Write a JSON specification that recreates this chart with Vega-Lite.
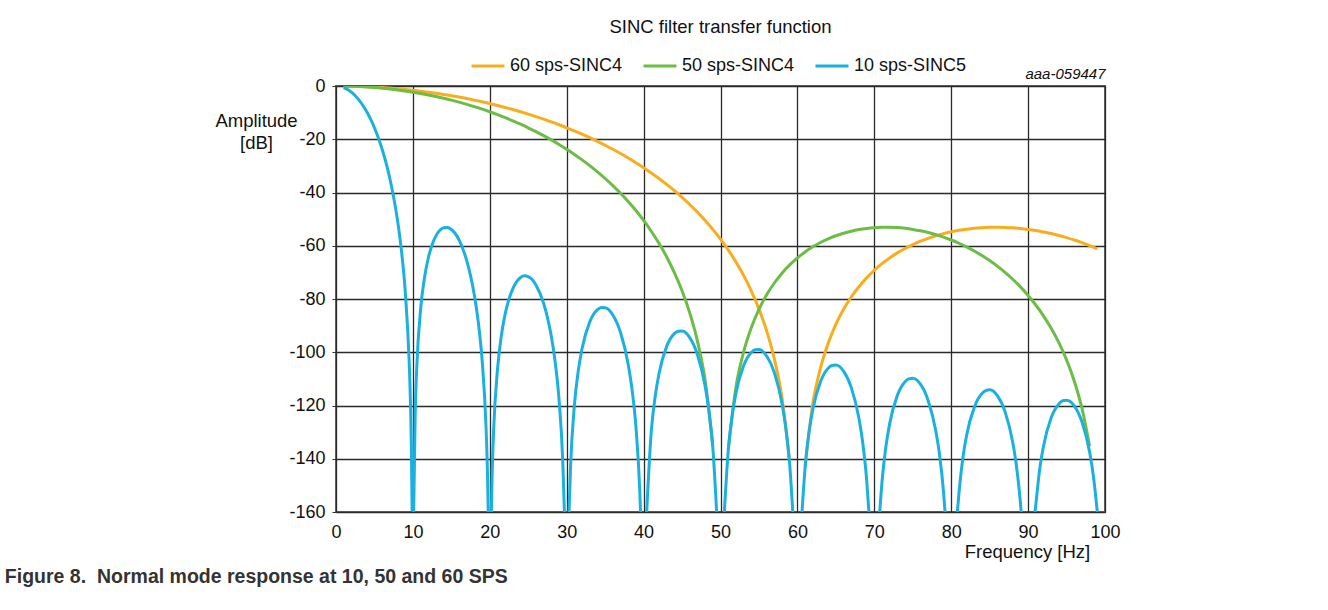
{
"$schema": "https://vega.github.io/schema/vega-lite/v6.json",
"background": "white",
"padding": {"left": 4, "top": 16, "right": 10, "bottom": 10},
"config": {"font": "Liberation Sans", "view": {"stroke": "#666666", "strokeWidth": 2}},
"title": {"text": "Figure 8.\u00a0 Normal mode response at 10, 50 and 60 SPS", "orient": "bottom", "anchor": "start", "frame": "bounds", "fontSize": 19.5, "fontWeight": "bold", "color": "#333333", "dx": -209, "offset": 6},
"data": {"values": [
{"series":"60 sps-SINC4","seg":"o1","f":1,"db":-0.02},{"series":"60 sps-SINC4","seg":"o1","f":2,"db":-0.06},{"series":"60 sps-SINC4","seg":"o1","f":3,"db":-0.14},{"series":"60 sps-SINC4","seg":"o1","f":4,"db":-0.26},{"series":"60 sps-SINC4","seg":"o1","f":5,"db":-0.4},{"series":"60 sps-SINC4","seg":"o1","f":6,"db":-0.57},{"series":"60 sps-SINC4","seg":"o1","f":7,"db":-0.78},{"series":"60 sps-SINC4","seg":"o1","f":8,"db":-1.02},{"series":"60 sps-SINC4","seg":"o1","f":9,"db":-1.3},{"series":"60 sps-SINC4","seg":"o1","f":10,"db":-1.6},
{"series":"60 sps-SINC4","seg":"o1","f":11,"db":-1.94},{"series":"60 sps-SINC4","seg":"o1","f":12,"db":-2.32},{"series":"60 sps-SINC4","seg":"o1","f":13,"db":-2.73},{"series":"60 sps-SINC4","seg":"o1","f":14,"db":-3.17},{"series":"60 sps-SINC4","seg":"o1","f":15,"db":-3.65},{"series":"60 sps-SINC4","seg":"o1","f":16,"db":-4.16},{"series":"60 sps-SINC4","seg":"o1","f":17,"db":-4.72},{"series":"60 sps-SINC4","seg":"o1","f":18,"db":-5.31},{"series":"60 sps-SINC4","seg":"o1","f":19,"db":-5.93},{"series":"60 sps-SINC4","seg":"o1","f":20,"db":-6.6},
{"series":"60 sps-SINC4","seg":"o1","f":21,"db":-7.31},{"series":"60 sps-SINC4","seg":"o1","f":22,"db":-8.06},{"series":"60 sps-SINC4","seg":"o1","f":23,"db":-8.85},{"series":"60 sps-SINC4","seg":"o1","f":24,"db":-9.68},{"series":"60 sps-SINC4","seg":"o1","f":25,"db":-10.56},{"series":"60 sps-SINC4","seg":"o1","f":26,"db":-11.49},{"series":"60 sps-SINC4","seg":"o1","f":27,"db":-12.46},{"series":"60 sps-SINC4","seg":"o1","f":28,"db":-13.48},{"series":"60 sps-SINC4","seg":"o1","f":29,"db":-14.56},{"series":"60 sps-SINC4","seg":"o1","f":30,"db":-15.69},
{"series":"60 sps-SINC4","seg":"o1","f":31,"db":-16.88},{"series":"60 sps-SINC4","seg":"o1","f":32,"db":-18.12},{"series":"60 sps-SINC4","seg":"o1","f":33,"db":-19.43},{"series":"60 sps-SINC4","seg":"o1","f":34,"db":-20.81},{"series":"60 sps-SINC4","seg":"o1","f":35,"db":-22.25},{"series":"60 sps-SINC4","seg":"o1","f":36,"db":-23.77},{"series":"60 sps-SINC4","seg":"o1","f":37,"db":-25.36},{"series":"60 sps-SINC4","seg":"o1","f":38,"db":-27.04},{"series":"60 sps-SINC4","seg":"o1","f":39,"db":-28.81},{"series":"60 sps-SINC4","seg":"o1","f":40,"db":-30.68},
{"series":"60 sps-SINC4","seg":"o1","f":41,"db":-32.66},{"series":"60 sps-SINC4","seg":"o1","f":42,"db":-34.74},{"series":"60 sps-SINC4","seg":"o1","f":43,"db":-36.96},{"series":"60 sps-SINC4","seg":"o1","f":44,"db":-39.31},{"series":"60 sps-SINC4","seg":"o1","f":45,"db":-41.82},{"series":"60 sps-SINC4","seg":"o1","f":46,"db":-44.5},{"series":"60 sps-SINC4","seg":"o1","f":47,"db":-47.38},{"series":"60 sps-SINC4","seg":"o1","f":48,"db":-50.48},{"series":"60 sps-SINC4","seg":"o1","f":49,"db":-53.85},{"series":"60 sps-SINC4","seg":"o1","f":50,"db":-57.52},
{"series":"60 sps-SINC4","seg":"o1","f":51,"db":-61.56},{"series":"60 sps-SINC4","seg":"o1","f":52,"db":-66.06},{"series":"60 sps-SINC4","seg":"o1","f":53,"db":-71.12},{"series":"60 sps-SINC4","seg":"o1","f":54,"db":-76.91},{"series":"60 sps-SINC4","seg":"o1","f":55,"db":-83.71},{"series":"60 sps-SINC4","seg":"o1","f":56,"db":-91.95},{"series":"60 sps-SINC4","seg":"o1","f":57,"db":-102.44},{"series":"60 sps-SINC4","seg":"o1","f":58,"db":-117.06},{"series":"60 sps-SINC4","seg":"o1","f":59,"db":-141.68},
{"series":"60 sps-SINC4","seg":"o2","f":61,"db":-142.84},{"series":"60 sps-SINC4","seg":"o2","f":62,"db":-119.37},{"series":"60 sps-SINC4","seg":"o2","f":63,"db":-105.92},{"series":"60 sps-SINC4","seg":"o2","f":64,"db":-96.59},{"series":"60 sps-SINC4","seg":"o2","f":65,"db":-89.51},{"series":"60 sps-SINC4","seg":"o2","f":66,"db":-83.89},{"series":"60 sps-SINC4","seg":"o2","f":67,"db":-79.26},{"series":"60 sps-SINC4","seg":"o2","f":68,"db":-75.38},{"series":"60 sps-SINC4","seg":"o2","f":69,"db":-72.06},{"series":"60 sps-SINC4","seg":"o2","f":70,"db":-69.21},
{"series":"60 sps-SINC4","seg":"o2","f":71,"db":-66.73},{"series":"60 sps-SINC4","seg":"o2","f":72,"db":-64.57},{"series":"60 sps-SINC4","seg":"o2","f":73,"db":-62.68},{"series":"60 sps-SINC4","seg":"o2","f":74,"db":-61.02},{"series":"60 sps-SINC4","seg":"o2","f":75,"db":-59.57},{"series":"60 sps-SINC4","seg":"o2","f":76,"db":-58.3},{"series":"60 sps-SINC4","seg":"o2","f":77,"db":-57.2},{"series":"60 sps-SINC4","seg":"o2","f":78,"db":-56.25},{"series":"60 sps-SINC4","seg":"o2","f":79,"db":-55.44},{"series":"60 sps-SINC4","seg":"o2","f":80,"db":-54.77},
{"series":"60 sps-SINC4","seg":"o2","f":81,"db":-54.21},{"series":"60 sps-SINC4","seg":"o2","f":82,"db":-53.77},{"series":"60 sps-SINC4","seg":"o2","f":83,"db":-53.43},{"series":"60 sps-SINC4","seg":"o2","f":84,"db":-53.21},{"series":"60 sps-SINC4","seg":"o2","f":85,"db":-53.08},{"series":"60 sps-SINC4","seg":"o2","f":86,"db":-53.05},{"series":"60 sps-SINC4","seg":"o2","f":87,"db":-53.11},{"series":"60 sps-SINC4","seg":"o2","f":88,"db":-53.27},{"series":"60 sps-SINC4","seg":"o2","f":89,"db":-53.52},{"series":"60 sps-SINC4","seg":"o2","f":90,"db":-53.86},
{"series":"60 sps-SINC4","seg":"o2","f":91,"db":-54.29},{"series":"60 sps-SINC4","seg":"o2","f":92,"db":-54.81},{"series":"60 sps-SINC4","seg":"o2","f":93,"db":-55.43},{"series":"60 sps-SINC4","seg":"o2","f":94,"db":-56.14},{"series":"60 sps-SINC4","seg":"o2","f":95,"db":-56.94},{"series":"60 sps-SINC4","seg":"o2","f":96,"db":-57.85},{"series":"60 sps-SINC4","seg":"o2","f":97,"db":-58.85},{"series":"60 sps-SINC4","seg":"o2","f":98,"db":-59.96},{"series":"60 sps-SINC4","seg":"o2","f":99,"db":-61.18},
{"series":"50 sps-SINC4","seg":"g1","f":1,"db":-0.02},{"series":"50 sps-SINC4","seg":"g1","f":2,"db":-0.09},{"series":"50 sps-SINC4","seg":"g1","f":3,"db":-0.2},{"series":"50 sps-SINC4","seg":"g1","f":4,"db":-0.36},{"series":"50 sps-SINC4","seg":"g1","f":5,"db":-0.57},{"series":"50 sps-SINC4","seg":"g1","f":6,"db":-0.82},{"series":"50 sps-SINC4","seg":"g1","f":7,"db":-1.13},{"series":"50 sps-SINC4","seg":"g1","f":8,"db":-1.47},{"series":"50 sps-SINC4","seg":"g1","f":9,"db":-1.87},{"series":"50 sps-SINC4","seg":"g1","f":10,"db":-2.32},
{"series":"50 sps-SINC4","seg":"g1","f":11,"db":-2.81},{"series":"50 sps-SINC4","seg":"g1","f":12,"db":-3.35},{"series":"50 sps-SINC4","seg":"g1","f":13,"db":-3.95},{"series":"50 sps-SINC4","seg":"g1","f":14,"db":-4.6},{"series":"50 sps-SINC4","seg":"g1","f":15,"db":-5.3},{"series":"50 sps-SINC4","seg":"g1","f":16,"db":-6.06},{"series":"50 sps-SINC4","seg":"g1","f":17,"db":-6.88},{"series":"50 sps-SINC4","seg":"g1","f":18,"db":-7.75},{"series":"50 sps-SINC4","seg":"g1","f":19,"db":-8.68},{"series":"50 sps-SINC4","seg":"g1","f":20,"db":-9.68},
{"series":"50 sps-SINC4","seg":"g1","f":21,"db":-10.74},{"series":"50 sps-SINC4","seg":"g1","f":22,"db":-11.87},{"series":"50 sps-SINC4","seg":"g1","f":23,"db":-13.07},{"series":"50 sps-SINC4","seg":"g1","f":24,"db":-14.34},{"series":"50 sps-SINC4","seg":"g1","f":25,"db":-15.69},{"series":"50 sps-SINC4","seg":"g1","f":26,"db":-17.12},{"series":"50 sps-SINC4","seg":"g1","f":27,"db":-18.64},{"series":"50 sps-SINC4","seg":"g1","f":28,"db":-20.25},{"series":"50 sps-SINC4","seg":"g1","f":29,"db":-21.95},{"series":"50 sps-SINC4","seg":"g1","f":30,"db":-23.77},
{"series":"50 sps-SINC4","seg":"g1","f":31,"db":-25.69},{"series":"50 sps-SINC4","seg":"g1","f":32,"db":-27.74},{"series":"50 sps-SINC4","seg":"g1","f":33,"db":-29.92},{"series":"50 sps-SINC4","seg":"g1","f":34,"db":-32.25},{"series":"50 sps-SINC4","seg":"g1","f":35,"db":-34.74},{"series":"50 sps-SINC4","seg":"g1","f":36,"db":-37.41},{"series":"50 sps-SINC4","seg":"g1","f":37,"db":-40.29},{"series":"50 sps-SINC4","seg":"g1","f":38,"db":-43.4},{"series":"50 sps-SINC4","seg":"g1","f":39,"db":-46.78},{"series":"50 sps-SINC4","seg":"g1","f":40,"db":-50.48},
{"series":"50 sps-SINC4","seg":"g1","f":41,"db":-54.55},{"series":"50 sps-SINC4","seg":"g1","f":42,"db":-59.09},{"series":"50 sps-SINC4","seg":"g1","f":43,"db":-64.2},{"series":"50 sps-SINC4","seg":"g1","f":44,"db":-70.05},{"series":"50 sps-SINC4","seg":"g1","f":45,"db":-76.91},{"series":"50 sps-SINC4","seg":"g1","f":46,"db":-85.22},{"series":"50 sps-SINC4","seg":"g1","f":47,"db":-95.8},{"series":"50 sps-SINC4","seg":"g1","f":48,"db":-110.51},{"series":"50 sps-SINC4","seg":"g1","f":49,"db":-135.24},
{"series":"50 sps-SINC4","seg":"g2","f":51,"db":-136.63},{"series":"50 sps-SINC4","seg":"g2","f":52,"db":-113.29},{"series":"50 sps-SINC4","seg":"g2","f":53,"db":-99.98},{"series":"50 sps-SINC4","seg":"g2","f":54,"db":-90.79},{"series":"50 sps-SINC4","seg":"g2","f":55,"db":-83.88},{"series":"50 sps-SINC4","seg":"g2","f":56,"db":-78.43},{"series":"50 sps-SINC4","seg":"g2","f":57,"db":-73.99},{"series":"50 sps-SINC4","seg":"g2","f":58,"db":-70.3},{"series":"50 sps-SINC4","seg":"g2","f":59,"db":-67.2},{"series":"50 sps-SINC4","seg":"g2","f":60,"db":-64.57},
{"series":"50 sps-SINC4","seg":"g2","f":61,"db":-62.32},{"series":"50 sps-SINC4","seg":"g2","f":62,"db":-60.41},{"series":"50 sps-SINC4","seg":"g2","f":63,"db":-58.78},{"series":"50 sps-SINC4","seg":"g2","f":64,"db":-57.4},{"series":"50 sps-SINC4","seg":"g2","f":65,"db":-56.25},{"series":"50 sps-SINC4","seg":"g2","f":66,"db":-55.29},{"series":"50 sps-SINC4","seg":"g2","f":67,"db":-54.53},{"series":"50 sps-SINC4","seg":"g2","f":68,"db":-53.93},{"series":"50 sps-SINC4","seg":"g2","f":69,"db":-53.49},{"series":"50 sps-SINC4","seg":"g2","f":70,"db":-53.2},
{"series":"50 sps-SINC4","seg":"g2","f":71,"db":-53.06},{"series":"50 sps-SINC4","seg":"g2","f":72,"db":-53.06},{"series":"50 sps-SINC4","seg":"g2","f":73,"db":-53.19},{"series":"50 sps-SINC4","seg":"g2","f":74,"db":-53.46},{"series":"50 sps-SINC4","seg":"g2","f":75,"db":-53.86},{"series":"50 sps-SINC4","seg":"g2","f":76,"db":-54.39},{"series":"50 sps-SINC4","seg":"g2","f":77,"db":-55.05},{"series":"50 sps-SINC4","seg":"g2","f":78,"db":-55.84},{"series":"50 sps-SINC4","seg":"g2","f":79,"db":-56.77},{"series":"50 sps-SINC4","seg":"g2","f":80,"db":-57.84},
{"series":"50 sps-SINC4","seg":"g2","f":81,"db":-59.06},{"series":"50 sps-SINC4","seg":"g2","f":82,"db":-60.43},{"series":"50 sps-SINC4","seg":"g2","f":83,"db":-61.97},{"series":"50 sps-SINC4","seg":"g2","f":84,"db":-63.67},{"series":"50 sps-SINC4","seg":"g2","f":85,"db":-65.57},{"series":"50 sps-SINC4","seg":"g2","f":86,"db":-67.67},{"series":"50 sps-SINC4","seg":"g2","f":87,"db":-70.0},{"series":"50 sps-SINC4","seg":"g2","f":88,"db":-72.58},{"series":"50 sps-SINC4","seg":"g2","f":89,"db":-75.45},{"series":"50 sps-SINC4","seg":"g2","f":90,"db":-78.65},
{"series":"50 sps-SINC4","seg":"g2","f":91,"db":-82.25},{"series":"50 sps-SINC4","seg":"g2","f":92,"db":-86.33},{"series":"50 sps-SINC4","seg":"g2","f":93,"db":-91.0},{"series":"50 sps-SINC4","seg":"g2","f":94,"db":-96.42},{"series":"50 sps-SINC4","seg":"g2","f":95,"db":-102.87},{"series":"50 sps-SINC4","seg":"g2","f":96,"db":-110.78},{"series":"50 sps-SINC4","seg":"g2","f":97,"db":-120.98},{"series":"50 sps-SINC4","seg":"g2","f":98,"db":-135.31},
{"series":"10 sps-SINC5","seg":"b0","f":1,"db":-0.57},{"series":"10 sps-SINC5","seg":"b0","f":1.5,"db":-1.3},{"series":"10 sps-SINC5","seg":"b0","f":2,"db":-2.32},{"series":"10 sps-SINC5","seg":"b0","f":2.5,"db":-3.65},{"series":"10 sps-SINC5","seg":"b0","f":3,"db":-5.31},{"series":"10 sps-SINC5","seg":"b0","f":3.5,"db":-7.31},{"series":"10 sps-SINC5","seg":"b0","f":4,"db":-9.68},{"series":"10 sps-SINC5","seg":"b0","f":4.5,"db":-12.46},{"series":"10 sps-SINC5","seg":"b0","f":5,"db":-15.69},{"series":"10 sps-SINC5","seg":"b0","f":5.5,"db":-19.43},
{"series":"10 sps-SINC5","seg":"b0","f":6,"db":-23.77},{"series":"10 sps-SINC5","seg":"b0","f":6.5,"db":-28.82},{"series":"10 sps-SINC5","seg":"b0","f":7,"db":-34.74},{"series":"10 sps-SINC5","seg":"b0","f":7.5,"db":-41.82},{"series":"10 sps-SINC5","seg":"b0","f":8,"db":-50.48},{"series":"10 sps-SINC5","seg":"b0","f":8.5,"db":-61.56},{"series":"10 sps-SINC5","seg":"b0","f":9,"db":-76.91},{"series":"10 sps-SINC5","seg":"b0","f":9.5,"db":-102.44},{"series":"10 sps-SINC5","seg":"b0","f":9.6,"db":-110.5},{"series":"10 sps-SINC5","seg":"b0","f":9.7,"db":-120.8},{"series":"10 sps-SINC5","seg":"b0","f":9.8,"db":-135.2},{"series":"10 sps-SINC5","seg":"b0","f":9.9,"db":-159.7},
{"series":"10 sps-SINC5","seg":"b1","f":10.1,"db":-160},{"series":"10 sps-SINC5","seg":"b1","f":10.3,"db":-122.9},{"series":"10 sps-SINC5","seg":"b1","f":10.5,"db":-105.9},{"series":"10 sps-SINC5","seg":"b1","f":11,"db":-83.9},{"series":"10 sps-SINC5","seg":"b1","f":11.5,"db":-72.1},{"series":"10 sps-SINC5","seg":"b1","f":12,"db":-64.6},{"series":"10 sps-SINC5","seg":"b1","f":12.5,"db":-59.6},{"series":"10 sps-SINC5","seg":"b1","f":13,"db":-56.3},{"series":"10 sps-SINC5","seg":"b1","f":13.5,"db":-54.2},{"series":"10 sps-SINC5","seg":"b1","f":14,"db":-53.2},{"series":"10 sps-SINC5","seg":"b1","f":14.5,"db":-53.1},{"series":"10 sps-SINC5","seg":"b1","f":15,"db":-53.9},{"series":"10 sps-SINC5","seg":"b1","f":15.5,"db":-55.4},{"series":"10 sps-SINC5","seg":"b1","f":16,"db":-57.8},{"series":"10 sps-SINC5","seg":"b1","f":16.5,"db":-61.2},{"series":"10 sps-SINC5","seg":"b1","f":17,"db":-65.6},{"series":"10 sps-SINC5","seg":"b1","f":17.5,"db":-71.3},{"series":"10 sps-SINC5","seg":"b1","f":18,"db":-78.7},{"series":"10 sps-SINC5","seg":"b1","f":18.5,"db":-88.6},{"series":"10 sps-SINC5","seg":"b1","f":19,"db":-102.9},{"series":"10 sps-SINC5","seg":"b1","f":19.5,"db":-127.4},{"series":"10 sps-SINC5","seg":"b1","f":19.7,"db":-145.4},{"series":"10 sps-SINC5","seg":"b1","f":19.8,"db":-160},
{"series":"10 sps-SINC5","seg":"b2","f":20.2,"db":-160},{"series":"10 sps-SINC5","seg":"b2","f":20.3,"db":-146.5},{"series":"10 sps-SINC5","seg":"b2","f":20.5,"db":-129.2},{"series":"10 sps-SINC5","seg":"b2","f":21,"db":-106.4},{"series":"10 sps-SINC5","seg":"b2","f":21.5,"db":-93.8},{"series":"10 sps-SINC5","seg":"b2","f":22,"db":-85.6},{"series":"10 sps-SINC5","seg":"b2","f":22.5,"db":-80.0},{"series":"10 sps-SINC5","seg":"b2","f":23,"db":-76.1},{"series":"10 sps-SINC5","seg":"b2","f":24,"db":-71.9},{"series":"10 sps-SINC5","seg":"b2","f":24.5,"db":-71.3},{"series":"10 sps-SINC5","seg":"b2","f":25,"db":-71.6},{"series":"10 sps-SINC5","seg":"b2","f":26,"db":-74.7},{"series":"10 sps-SINC5","seg":"b2","f":27,"db":-81.6},{"series":"10 sps-SINC5","seg":"b2","f":27.5,"db":-87.0},{"series":"10 sps-SINC5","seg":"b2","f":28,"db":-94.0},{"series":"10 sps-SINC5","seg":"b2","f":28.5,"db":-103.6},{"series":"10 sps-SINC5","seg":"b2","f":29,"db":-117.6},{"series":"10 sps-SINC5","seg":"b2","f":29.5,"db":-141.8},{"series":"10 sps-SINC5","seg":"b2","f":29.7,"db":-160},
{"series":"10 sps-SINC5","seg":"b3","f":30.3,"db":-160},{"series":"10 sps-SINC5","seg":"b3","f":30.5,"db":-143.0},{"series":"10 sps-SINC5","seg":"b3","f":31,"db":-119.9},{"series":"10 sps-SINC5","seg":"b3","f":31.5,"db":-107.1},{"series":"10 sps-SINC5","seg":"b3","f":32,"db":-98.6},{"series":"10 sps-SINC5","seg":"b3","f":33,"db":-88.6},{"series":"10 sps-SINC5","seg":"b3","f":34,"db":-84.0},{"series":"10 sps-SINC5","seg":"b3","f":34.5,"db":-83.2},{"series":"10 sps-SINC5","seg":"b3","f":35,"db":-83.3},{"series":"10 sps-SINC5","seg":"b3","f":36,"db":-86.0},{"series":"10 sps-SINC5","seg":"b3","f":37,"db":-92.6},{"series":"10 sps-SINC5","seg":"b3","f":38,"db":-104.6},{"series":"10 sps-SINC5","seg":"b3","f":38.5,"db":-114.1},{"series":"10 sps-SINC5","seg":"b3","f":39,"db":-127.9},{"series":"10 sps-SINC5","seg":"b3","f":39.5,"db":-152.0},{"series":"10 sps-SINC5","seg":"b3","f":39.6,"db":-160},
{"series":"10 sps-SINC5","seg":"b4","f":40.4,"db":-160},{"series":"10 sps-SINC5","seg":"b4","f":41,"db":-129.6},{"series":"10 sps-SINC5","seg":"b4","f":41.5,"db":-116.7},{"series":"10 sps-SINC5","seg":"b4","f":42,"db":-108.1},{"series":"10 sps-SINC5","seg":"b4","f":43,"db":-97.8},{"series":"10 sps-SINC5","seg":"b4","f":44,"db":-93.0},{"series":"10 sps-SINC5","seg":"b4","f":44.5,"db":-92.1},{"series":"10 sps-SINC5","seg":"b4","f":45,"db":-92.0},{"series":"10 sps-SINC5","seg":"b4","f":46,"db":-94.5},{"series":"10 sps-SINC5","seg":"b4","f":47,"db":-100.9},{"series":"10 sps-SINC5","seg":"b4","f":48,"db":-112.7},{"series":"10 sps-SINC5","seg":"b4","f":48.5,"db":-122.1},{"series":"10 sps-SINC5","seg":"b4","f":49,"db":-135.8},{"series":"10 sps-SINC5","seg":"b4","f":49.5,"db":-160},
{"series":"10 sps-SINC5","seg":"b5","f":50.5,"db":-160},{"series":"10 sps-SINC5","seg":"b5","f":51,"db":-137.2},{"series":"10 sps-SINC5","seg":"b5","f":51.5,"db":-124.2},{"series":"10 sps-SINC5","seg":"b5","f":52,"db":-115.5},{"series":"10 sps-SINC5","seg":"b5","f":53,"db":-105.1},{"series":"10 sps-SINC5","seg":"b5","f":54,"db":-100.1},{"series":"10 sps-SINC5","seg":"b5","f":54.5,"db":-99.1},{"series":"10 sps-SINC5","seg":"b5","f":55,"db":-99.0},{"series":"10 sps-SINC5","seg":"b5","f":56,"db":-101.4},{"series":"10 sps-SINC5","seg":"b5","f":57,"db":-107.6},{"series":"10 sps-SINC5","seg":"b5","f":58,"db":-119.3},{"series":"10 sps-SINC5","seg":"b5","f":58.5,"db":-128.6},{"series":"10 sps-SINC5","seg":"b5","f":59,"db":-142.2},{"series":"10 sps-SINC5","seg":"b5","f":59.4,"db":-160},
{"series":"10 sps-SINC5","seg":"b6","f":60.6,"db":-160},{"series":"10 sps-SINC5","seg":"b6","f":61,"db":-143.4},{"series":"10 sps-SINC5","seg":"b6","f":61.5,"db":-130.3},{"series":"10 sps-SINC5","seg":"b6","f":62,"db":-121.6},{"series":"10 sps-SINC5","seg":"b6","f":63,"db":-111.1},{"series":"10 sps-SINC5","seg":"b6","f":64,"db":-106.0},{"series":"10 sps-SINC5","seg":"b6","f":64.5,"db":-105.0},{"series":"10 sps-SINC5","seg":"b6","f":65,"db":-104.8},{"series":"10 sps-SINC5","seg":"b6","f":66,"db":-107.1},{"series":"10 sps-SINC5","seg":"b6","f":67,"db":-113.2},{"series":"10 sps-SINC5","seg":"b6","f":68,"db":-124.8},{"series":"10 sps-SINC5","seg":"b6","f":68.5,"db":-134.1},{"series":"10 sps-SINC5","seg":"b6","f":69,"db":-147.7},{"series":"10 sps-SINC5","seg":"b6","f":69.3,"db":-160},
{"series":"10 sps-SINC5","seg":"b7","f":70.7,"db":-160},{"series":"10 sps-SINC5","seg":"b7","f":71,"db":-148.7},{"series":"10 sps-SINC5","seg":"b7","f":71.5,"db":-135.6},{"series":"10 sps-SINC5","seg":"b7","f":72,"db":-126.8},{"series":"10 sps-SINC5","seg":"b7","f":73,"db":-116.2},{"series":"10 sps-SINC5","seg":"b7","f":74,"db":-111.1},{"series":"10 sps-SINC5","seg":"b7","f":74.5,"db":-110.0},{"series":"10 sps-SINC5","seg":"b7","f":75,"db":-109.8},{"series":"10 sps-SINC5","seg":"b7","f":76,"db":-112.0},{"series":"10 sps-SINC5","seg":"b7","f":77,"db":-118.1},{"series":"10 sps-SINC5","seg":"b7","f":78,"db":-129.6},{"series":"10 sps-SINC5","seg":"b7","f":78.5,"db":-138.8},{"series":"10 sps-SINC5","seg":"b7","f":79,"db":-152.4},{"series":"10 sps-SINC5","seg":"b7","f":79.2,"db":-160},
{"series":"10 sps-SINC5","seg":"b8","f":80.8,"db":-160},{"series":"10 sps-SINC5","seg":"b8","f":81,"db":-153.3},{"series":"10 sps-SINC5","seg":"b8","f":81.5,"db":-140.1},{"series":"10 sps-SINC5","seg":"b8","f":82,"db":-131.3},{"series":"10 sps-SINC5","seg":"b8","f":83,"db":-120.7},{"series":"10 sps-SINC5","seg":"b8","f":84,"db":-115.5},{"series":"10 sps-SINC5","seg":"b8","f":84.5,"db":-114.4},{"series":"10 sps-SINC5","seg":"b8","f":85,"db":-114.1},{"series":"10 sps-SINC5","seg":"b8","f":86,"db":-116.3},{"series":"10 sps-SINC5","seg":"b8","f":87,"db":-122.3},{"series":"10 sps-SINC5","seg":"b8","f":88,"db":-133.8},{"series":"10 sps-SINC5","seg":"b8","f":88.5,"db":-143.0},{"series":"10 sps-SINC5","seg":"b8","f":89,"db":-156.5},{"series":"10 sps-SINC5","seg":"b8","f":89.1,"db":-160},
{"series":"10 sps-SINC5","seg":"b9","f":90.9,"db":-160},{"series":"10 sps-SINC5","seg":"b9","f":91,"db":-157.3},{"series":"10 sps-SINC5","seg":"b9","f":91.5,"db":-144.1},{"series":"10 sps-SINC5","seg":"b9","f":92,"db":-135.3},{"series":"10 sps-SINC5","seg":"b9","f":93,"db":-124.6},{"series":"10 sps-SINC5","seg":"b9","f":94,"db":-119.4},{"series":"10 sps-SINC5","seg":"b9","f":94.5,"db":-118.2},{"series":"10 sps-SINC5","seg":"b9","f":95,"db":-118.0},{"series":"10 sps-SINC5","seg":"b9","f":96,"db":-120.1},{"series":"10 sps-SINC5","seg":"b9","f":97,"db":-126.1},{"series":"10 sps-SINC5","seg":"b9","f":98,"db":-137.5},{"series":"10 sps-SINC5","seg":"b9","f":98.5,"db":-146.7},{"series":"10 sps-SINC5","seg":"b9","f":99,"db":-160}
]},
"vconcat": [{
  "width": 769,
  "height": 426,
  "title": {"text": "SINC filter transfer function", "fontSize": 18.5, "fontWeight": "normal", "color": "#111111", "anchor": "middle", "offset": 30},
  "layer": [
    {
      "encoding": {
        "x": {"field": "f", "type": "quantitative", "scale": {"domain": [0, 100], "nice": false},
          "axis": {"orient": "bottom", "values": [0,10,20,30,40,50,60,70,80,90,100], "labelExpr": "'' + datum.value", "grid": true, "gridColor": "#2a2a2a", "gridWidth": 1.3, "ticks": false, "domain": false, "labelFontSize": 18, "labelColor": "#111111", "labelPadding": 11, "labelFlush": false, "labelOverlap": false, "title": "Frequency [Hz]", "titleFontSize": 18.5, "titleFontWeight": "normal", "titleColor": "#111111", "titleX": 691, "titleY": 30, "titleAlign": "center", "titleBaseline": "top"}},
        "y": {"field": "db", "type": "quantitative", "scale": {"domain": [-160, 0], "nice": false},
          "axis": {"values": [-160,-140,-120,-100,-80,-60,-40,-20,0], "labelExpr": "'' + datum.value", "grid": true, "gridColor": "#2a2a2a", "gridWidth": 1.3, "ticks": true, "tickSize": 4, "tickColor": "#333333", "domain": false, "labelFontSize": 18, "labelColor": "#111111", "labelPadding": 7, "labelFlush": false, "labelOverlap": false, "title": ["Amplitude", "[dB]"], "titleAngle": 0, "titleAlign": "center", "titleBaseline": "top", "titleX": -80, "titleY": 25, "titleFontSize": 18.5, "titleFontWeight": "normal", "titleColor": "#111111", "titleLineHeight": 22}},
        "color": {"field": "series", "type": "nominal", "scale": {"domain": ["60 sps-SINC4", "50 sps-SINC4", "10 sps-SINC5"], "range": ["#F9AD1C", "#6CBD45", "#1AB0E0"]},
          "legend": {"orient": "none", "legendX": 134, "legendY": -38, "direction": "horizontal", "title": null, "symbolType": "stroke", "symbolSize": 1089, "symbolStrokeWidth": 3, "labelFontSize": 18, "labelColor": "#111111", "labelOffset": 4, "columnPadding": 14, "padding": 0}},
        "detail": {"field": "seg", "type": "nominal"}
      },
      "layer": [
        {"transform": [{"filter": {"field": "series", "equal": "60 sps-SINC4"}}], "mark": {"type": "line", "strokeWidth": 3, "interpolate": "monotone", "clip": true}},
        {"transform": [{"filter": {"field": "series", "equal": "50 sps-SINC4"}}], "mark": {"type": "line", "strokeWidth": 3, "interpolate": "monotone", "clip": true}},
        {"transform": [{"filter": {"field": "series", "equal": "10 sps-SINC5"}}], "mark": {"type": "line", "strokeWidth": 3, "interpolate": "monotone", "clip": true}}
      ]
    },
    {
      "mark": {"type": "point", "opacity": 0},
      "encoding": {
        "x": {"field": "f", "type": "quantitative", "axis": {"orient": "top", "title": "aaa-059447", "titleFontStyle": "italic", "titleFontSize": 15, "titleFontWeight": "normal", "titleColor": "#111111", "titleAnchor": "end", "titlePadding": 5, "labels": false, "ticks": false, "domain": false, "grid": false}}
      }
    }
  ],
  "resolve": {"axis": {"x": "independent"}}
}]
}
